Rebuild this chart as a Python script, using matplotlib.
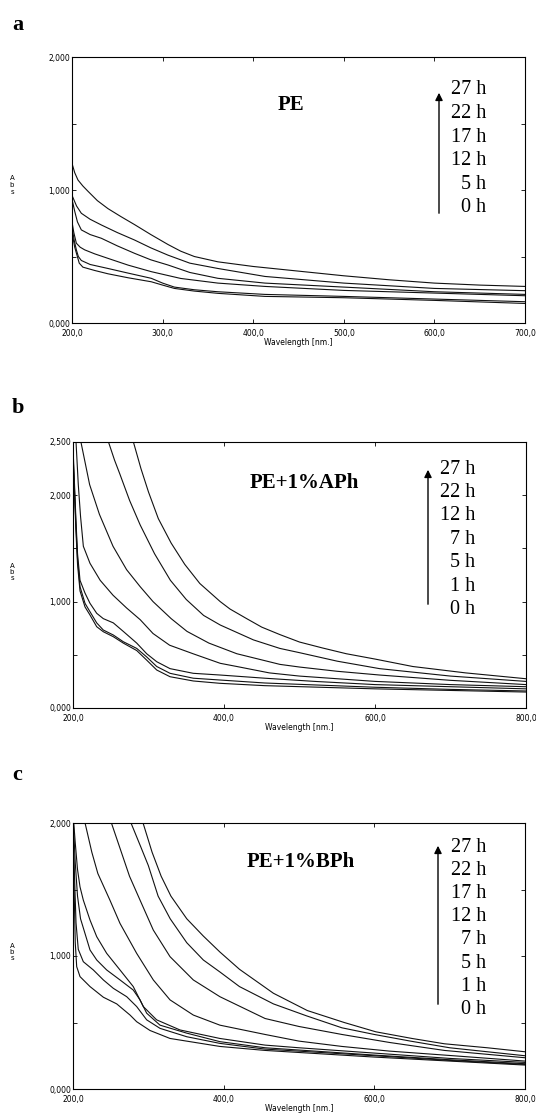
import matplotlib
matplotlib.use("Agg")
import matplotlib.pyplot as plt
from matplotlib.patches import FancyArrowPatch

# ---------------------------------------------------------------------------
# Data (wavelength nm, absorbance)
# ---------------------------------------------------------------------------

# panel a: PE
pe_hours = ["27 h", "22 h", "17 h", "12 h", "5 h", "0 h"]
pe_wl = [
    [200, 203, 206.6, 212, 217.7, 228, 239.7, 254, 269, 287, 306, 320, 335, 361, 400, 450, 500, 550, 600, 650, 700],
    [200, 205, 210.3, 220, 232.4, 250, 269, 287, 306, 330, 361, 413, 500, 600, 700],
    [200, 203, 206, 210.3, 220, 232.4, 250, 269, 287, 306, 330, 361, 413, 500, 600, 700],
    [200, 202, 204.8, 209, 214, 225, 239.7, 262, 287.5, 320, 361, 413, 500, 600, 700],
    [200, 202.5, 204.8, 207, 210.3, 220, 239.7, 262, 287.5, 300, 313, 335, 361, 413, 500, 600, 700],
    [200, 203, 205.9, 208, 212, 225, 239.7, 262, 287.5, 300, 313, 335, 361, 413, 500, 600, 700],
]
pe_abs = [
    [1.20, 1.13, 1.075, 1.03, 0.99, 0.92, 0.86, 0.80, 0.74, 0.665, 0.59, 0.54, 0.50, 0.46, 0.425, 0.39, 0.355, 0.325, 0.30, 0.285, 0.275],
    [0.96, 0.88, 0.825, 0.78, 0.737, 0.68, 0.624, 0.565, 0.51, 0.45, 0.41, 0.35, 0.30, 0.26, 0.243],
    [0.93, 0.84, 0.76, 0.70, 0.665, 0.637, 0.58, 0.524, 0.475, 0.436, 0.38, 0.336, 0.30, 0.27, 0.235, 0.215],
    [0.76, 0.68, 0.60, 0.57, 0.55, 0.52, 0.486, 0.435, 0.386, 0.335, 0.30, 0.275, 0.245, 0.225, 0.205],
    [0.72, 0.62, 0.55, 0.50, 0.47, 0.44, 0.41, 0.375, 0.336, 0.30, 0.27, 0.25, 0.235, 0.215, 0.20, 0.18, 0.16],
    [0.68, 0.57, 0.50, 0.45, 0.42, 0.395, 0.37, 0.34, 0.31, 0.285, 0.26, 0.24, 0.223, 0.20, 0.19, 0.17, 0.147],
]

# panel b: PE + 1% APh
aph_hours = ["27 h", "22 h", "12 h", "7 h", "5 h", "1 h", "0 h"]
aph_wl = [
    [280, 290, 300, 313, 330, 348, 368, 395, 408, 430, 450, 474, 500, 530, 562, 600, 650, 720, 800],
    [247, 255, 262, 275, 289, 308, 329, 350, 373, 395, 439, 474, 500, 550, 606, 700, 800],
    [210.5, 222, 235, 253, 271, 289, 306, 330, 351, 380, 417, 474, 500, 550, 606, 700, 800],
    [204, 207, 210, 213.7, 222.5, 236, 253, 271, 289, 306, 328, 359, 395, 417, 460, 500, 600, 700, 800],
    [200, 202, 204, 206, 209.3, 215.9, 222.5, 231.4, 240.1, 253.4, 266.6, 284.4, 297.6, 310.9, 328.5, 359.3, 394.7, 454, 520, 600, 700, 800],
    [200, 202, 204, 206, 209.3, 215.9, 222.5, 231.4, 240.1, 253.4, 266.6, 284.4, 297.6, 310.9, 328.5, 359.3, 394.7, 454, 600, 700, 800],
    [200, 202, 204, 206, 209.3, 215.9, 222.5, 231.4, 240.1, 253.4, 266.6, 284.4, 297.6, 310.9, 328.5, 359.3, 394.7, 454, 600, 700, 800],
]
aph_abs = [
    [2.5, 2.25, 2.03, 1.78, 1.55, 1.35, 1.17, 1.0, 0.93, 0.84, 0.76, 0.69, 0.62, 0.565, 0.51, 0.46, 0.39, 0.33, 0.275],
    [2.5, 2.33, 2.2, 1.95, 1.72, 1.45, 1.20, 1.02, 0.87, 0.78, 0.64, 0.56, 0.52, 0.44, 0.37, 0.30, 0.25],
    [2.5, 2.1, 1.82, 1.52, 1.30, 1.14, 1.0, 0.84, 0.72, 0.61, 0.51, 0.41, 0.385, 0.345, 0.31, 0.26, 0.22],
    [2.5, 2.1, 1.8, 1.52, 1.36, 1.20, 1.06, 0.94, 0.83, 0.70, 0.59, 0.51, 0.42, 0.39, 0.33, 0.30, 0.25, 0.22, 0.20],
    [2.45, 2.1, 1.75, 1.45, 1.20, 1.08, 0.984, 0.89, 0.84, 0.80, 0.72, 0.61, 0.51, 0.435, 0.37, 0.326, 0.31, 0.28, 0.25, 0.22, 0.20, 0.18],
    [2.4, 2.05, 1.7, 1.4, 1.14, 0.984, 0.905, 0.80, 0.733, 0.686, 0.623, 0.56, 0.48, 0.39, 0.326, 0.28, 0.263, 0.235, 0.195, 0.175, 0.16],
    [2.35, 2.0, 1.65, 1.35, 1.10, 0.95, 0.874, 0.764, 0.717, 0.67, 0.61, 0.54, 0.45, 0.357, 0.294, 0.254, 0.232, 0.21, 0.18, 0.165, 0.15],
]

# panel c: PE + 1% BPh
bph_hours = ["27 h", "22 h", "17 h", "12 h", "7 h", "5 h", "1 h", "0 h"]
bph_wl = [
    [293, 305, 317, 330, 351, 373, 395, 421, 466, 511, 560, 602, 650, 693, 750, 800],
    [277, 290, 300, 313, 329, 351, 373, 395, 421, 466, 510, 557, 600, 648, 700, 800],
    [251, 263, 275, 289, 306.6, 328.8, 359.7, 395, 455, 500, 557, 620, 693, 800],
    [216, 225, 233, 249, 262.4, 284.5, 306.6, 328.8, 359.7, 395, 455, 500, 557, 620, 693, 800],
    [201, 203, 206, 209.3, 213.7, 222.6, 231.5, 244.7, 262.4, 280, 293.3, 311, 342, 395, 455, 500, 600, 700, 800],
    [200.5, 203, 206, 210, 215.9, 222.6, 231.5, 244.7, 262.4, 280, 289, 297.8, 315.5, 351, 395, 455, 600, 700, 800],
    [200, 202, 204, 207, 213.7, 227, 240.3, 253.5, 271.3, 284.5, 297.8, 315.5, 351, 395, 455, 600, 700, 800],
    [200, 201.5, 203, 204.9, 209.3, 222.6, 240.3, 258, 275.7, 284.5, 302.2, 328.8, 395, 455, 600, 700, 800],
]
bph_abs = [
    [2.0, 1.78, 1.60, 1.45, 1.28, 1.15, 1.03, 0.90, 0.72, 0.59, 0.50, 0.43, 0.38, 0.34, 0.31, 0.28],
    [2.0, 1.82, 1.68, 1.45, 1.28, 1.10, 0.97, 0.88, 0.77, 0.64, 0.55, 0.46, 0.41, 0.36, 0.31, 0.25],
    [2.0, 1.8, 1.6, 1.42, 1.195, 0.995, 0.82, 0.694, 0.53, 0.47, 0.41, 0.35, 0.29, 0.235],
    [2.0, 1.78, 1.62, 1.42, 1.245, 1.02, 0.82, 0.67, 0.556, 0.48, 0.41, 0.36, 0.32, 0.285, 0.255, 0.21],
    [2.0, 1.85, 1.65, 1.52, 1.42, 1.27, 1.145, 1.02, 0.895, 0.77, 0.62, 0.52, 0.444, 0.38, 0.33, 0.31, 0.27, 0.23, 0.20],
    [2.0, 1.7, 1.45, 1.28, 1.17, 1.045, 0.97, 0.895, 0.82, 0.744, 0.67, 0.57, 0.48, 0.42, 0.356, 0.31, 0.255, 0.22, 0.19],
    [2.0, 1.6, 1.25, 1.05, 0.957, 0.895, 0.82, 0.757, 0.694, 0.62, 0.52, 0.456, 0.393, 0.343, 0.30, 0.25, 0.215, 0.185],
    [1.95, 1.5, 1.1, 0.92, 0.845, 0.77, 0.69, 0.64, 0.556, 0.506, 0.44, 0.38, 0.32, 0.29, 0.24, 0.21, 0.18],
]

# axis ticks
a_xticks = [200, 300, 400, 500, 600, 700]
a_xlabels = ["200,0", "300,0", "400,0", "500,0", "600,0", "700,0"]
bc_xticks = [200, 400, 600, 800]
bc_xlabels = ["200,0", "400,0", "600,0", "800,0"]
ac_yticks = [0, 0.5, 1.0, 1.5, 2.0]
ac_ylabels = ["0,000", "", "1,000", "", "2,000"]
b_yticks = [0, 0.5, 1.0, 1.5, 2.0, 2.5]
b_ylabels = ["0,000", "", "1,000", "", "2,000", "2,500"]

W, H = 536, 1113


def fx(x):
    return x / W


def fy(y):
    return 1 - y / H


def draw_panel(fig, box, wl, ab, xlim, ylim, xt, xl, yt, yl):
    left, top, right, bottom = box
    ax = fig.add_axes([fx(left), fy(bottom), (right - left) / W, (bottom - top) / H])
    for x, y in zip(wl, ab):
        ax.plot(x, y, color="#111111", lw=0.8, solid_joinstyle="round")
    ax.set_xlim(*xlim)
    ax.set_ylim(*ylim)
    ax.set_xticks(xt)
    ax.set_xticklabels(xl)
    ax.set_yticks(yt)
    ax.set_yticklabels(yl)
    ax.tick_params(direction="in", length=3, width=0.6, labelsize=5.5,
                   top=True, right=True)
    ax.tick_params(axis="x", pad=4)
    ax.tick_params(axis="y", pad=1.5)
    for s in ax.spines.values():
        s.set_linewidth(0.8)
    ax.set_xlabel("Wavelength [nm.]", fontsize=5.5, labelpad=0)
    return ax


def legend_block(fig, arrow_x, arrow_y0, arrow_y1, text_x, text_y0, step, hours,
                 title, title_x, title_y):
    fig.add_artist(FancyArrowPatch(
        (fx(arrow_x), fy(arrow_y0)), (fx(arrow_x), fy(arrow_y1)),
        transform=fig.transFigure, arrowstyle="-|>", mutation_scale=11,
        lw=1.0, color="black"))
    for i, h in enumerate(hours):
        fig.text(fx(text_x), fy(text_y0 + i * step), h, ha="right", va="center",
                 fontsize=14.5, family="Liberation Serif")
    fig.text(fx(title_x), fy(title_y), title, ha="center", va="center",
             fontsize=15, fontweight="bold", family="Liberation Serif")


fig = plt.figure(figsize=(W / 100, H / 100), dpi=100)

# panel a
draw_panel(fig, (72, 57, 525, 323), pe_wl, pe_abs, (200, 700), (0, 2),
           a_xticks, a_xlabels, ac_yticks, ac_ylabels)
legend_block(fig, 439, 216, 90, 486, 90, 23.6, pe_hours, "PE", 291, 105)
fig.text(fx(12), fy(185), "A\nb\ns", fontsize=5, ha="center", va="center", linespacing=1.1)
fig.text(fx(12), fy(25), "a", fontsize=16, fontweight="bold", family="Liberation Serif",
         va="center")

# panel b
draw_panel(fig, (73, 442, 526, 708), aph_wl, aph_abs, (200, 800), (0, 2.5),
           bc_xticks, bc_xlabels, b_yticks, b_ylabels)
legend_block(fig, 428, 607, 467, 475, 469, 23.45, aph_hours, "PE+1%APh", 304, 483)
fig.text(fx(12), fy(572), "A\nb\ns", fontsize=5, ha="center", va="center", linespacing=1.1)
fig.text(fx(12), fy(408), "b", fontsize=16, fontweight="bold", family="Liberation Serif",
         va="center")

# panel c
draw_panel(fig, (73, 823, 525, 1089), bph_wl, bph_abs, (200, 800), (0, 2),
           bc_xticks, bc_xlabels, ac_yticks, ac_ylabels)
legend_block(fig, 438, 1007, 843, 486, 847, 23.25, bph_hours, "PE+1%BPh", 301, 862)
fig.text(fx(12), fy(952), "A\nb\ns", fontsize=5, ha="center", va="center", linespacing=1.1)
fig.text(fx(12), fy(775), "c", fontsize=16, fontweight="bold", family="Liberation Serif",
         va="center")

fig.savefig("out.png", dpi=100)
